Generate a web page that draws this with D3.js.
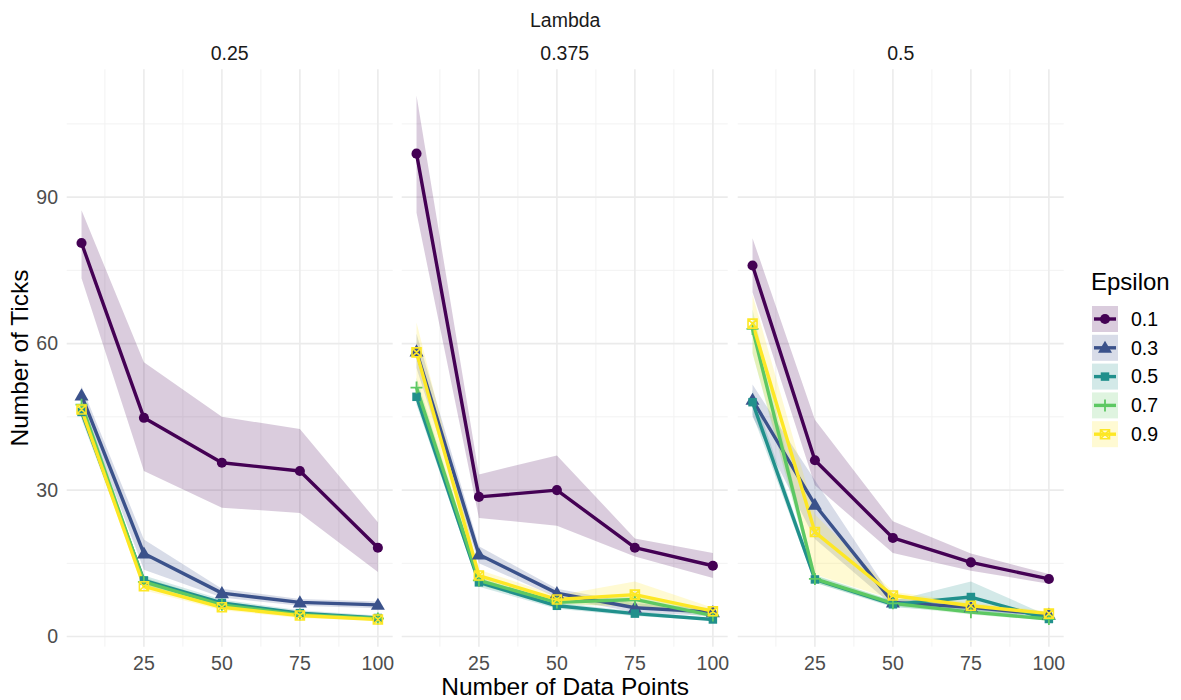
<!DOCTYPE html>
<html>
<head>
<meta charset="utf-8">
<script src="https://cdn.jsdelivr.net/npm/d3@7"></script>
<style>
  body { margin: 0; background: #fff; }
  text { font-family: "Liberation Sans", Arial, sans-serif; }
</style>
</head>
<body>
<div id="chart"></div>
<script>
// facets, series and x positions
const lambdas = ["0.25", "0.375", "0.5"];
const epsilons = ["0.1", "0.3", "0.5", "0.7", "0.9"];
const dataPoints = [5, 25, 50, 75, 100];
const xTicks = [25, 50, 75, 100];
const yTicks = [0, 30, 60, 90];

// mean / lower / upper per epsilon (rows) for each lambda
const mean025 = [
  [80.6, 44.8, 35.6, 33.9, 18.2],
  [49.4, 17.0, 8.9, 7.0, 6.5],
  [46.0, 11.5, 6.9, 4.8, 3.8],
  [47.5, 11.2, 6.5, 4.5, 3.7],
  [46.5, 10.3, 6.0, 4.3, 3.5]
];
const low025 = [
  [73.4, 33.9, 26.4, 25.3, 13.2],
  [47.5, 13.7, 8.0, 6.3, 5.8],
  [44.5, 10.5, 6.2, 4.2, 3.4],
  [46.0, 10.3, 5.8, 4.0, 3.4],
  [45.0, 9.5, 5.4, 3.8, 3.3]
];
const high025 = [
  [87.3, 56.2, 45.0, 42.5, 23.4],
  [51.3, 19.9, 9.8, 7.7, 7.2],
  [47.5, 12.5, 7.6, 5.4, 4.3],
  [49.0, 12.1, 7.2, 5.0, 4.1],
  [48.0, 11.1, 6.6, 4.8, 3.9]
];

const mean0375 = [
  [98.9, 28.6, 30.0, 18.2, 14.5],
  [58.4, 16.8, 8.9, 5.9, 5.0],
  [49.1, 11.1, 6.3, 4.7, 3.5],
  [51.0, 11.5, 7.0, 7.6, 4.3],
  [58.2, 12.5, 7.6, 8.6, 5.2]
];
const low0375 = [
  [86.8, 24.3, 22.7, 16.4, 12.0],
  [55.0, 15.0, 8.0, 5.0, 4.2],
  [47.5, 10.2, 5.7, 4.2, 3.3],
  [49.0, 10.5, 6.3, 6.5, 3.8],
  [52.0, 11.3, 6.8, 6.0, 4.5]
];
const high0375 = [
  [110.8, 33.2, 37.1, 20.1, 17.1],
  [62.0, 18.5, 9.8, 6.8, 5.8],
  [50.7, 12.0, 6.9, 5.2, 3.8],
  [53.0, 12.5, 7.7, 8.7, 4.8],
  [64.3, 13.7, 8.4, 11.3, 5.9]
];

const mean05 = [
  [76.0, 36.1, 20.2, 15.2, 11.8],
  [48.5, 27.0, 7.0, 6.0, 4.5],
  [48.0, 11.7, 6.6, 8.1, 3.6],
  [63.0, 11.8, 6.8, 5.0, 3.6],
  [64.1, 21.4, 8.4, 6.3, 4.7]
];
const low05 = [
  [70.5, 31.0, 17.1, 13.5, 10.8],
  [45.0, 20.0, 6.3, 5.4, 4.0],
  [45.5, 11.0, 6.0, 5.0, 3.3],
  [58.0, 11.0, 6.2, 4.5, 3.3],
  [58.0, 12.7, 7.6, 5.7, 4.2]
];
const high05 = [
  [81.6, 44.4, 23.6, 17.0, 12.8],
  [51.6, 32.0, 7.8, 6.6, 5.0],
  [50.5, 12.5, 7.3, 11.3, 4.2],
  [67.0, 12.6, 7.4, 5.6, 4.0],
  [70.0, 25.0, 9.2, 7.0, 5.2]
];

const means = [mean025, mean0375, mean05];
const lows = [low025, low0375, low05];
const highs = [high025, high0375, high05];

const colors = ["#440154", "#3B528B", "#21908C", "#5DC863", "#FDE725"];
const shapes = ["circle", "triangle", "square", "plus", "squarecross"];

const W = 1181, H = 700;
const panelW = 326, panelTop = 69.3, panelBottom = 646.7;
const panelLeft = [66.7, 401.7, 737.7];

const svg = d3.select("#chart").append("svg")
  .attr("width", W).attr("height", H);

// y scale with ggplot style 5% expansion
const allLo = d3.min(lows.flat(2)), allHi = d3.max(highs.flat(2));
const pad = (allHi - allLo) * 0.05;
const y = d3.scaleLinear()
  .domain([allLo - pad, allHi + pad])
  .range([panelBottom, panelTop]);

const xPad = (d3.max(dataPoints) - d3.min(dataPoints)) * 0.05;

function drawShape(g, shape, color) {
  if (shape === "circle") {
    g.append("path").attr("d", d3.symbol(d3.symbolCircle, 80)()).attr("fill", color);
  } else if (shape === "triangle") {
    g.append("path").attr("d", d3.symbol(d3.symbolTriangle, 85)()).attr("fill", color)
      .attr("transform", "translate(0,1)");
  } else if (shape === "square") {
    g.append("path").attr("d", d3.symbol(d3.symbolSquare, 72)()).attr("fill", color);
  } else if (shape === "plus") {
    g.append("path").attr("d", "M-6,0H6M0,-6V6")
      .attr("stroke", color).attr("stroke-width", 1.8).attr("fill", "none");
  } else {
    g.append("path").attr("d", "M-4.5,-4.5H4.5V4.5H-4.5Z M-4.5,-4.5L4.5,4.5M4.5,-4.5L-4.5,4.5")
      .attr("stroke", color).attr("stroke-width", 1.6).attr("fill", "none");
  }
}

// facet header
svg.append("text")
  .attr("x", (panelLeft[0] + panelLeft[2] + panelW) / 2).attr("y", 26.5)
  .attr("text-anchor", "middle").attr("font-size", 19.5).attr("fill", "#1a1a1a")
  .text("Lambda");

lambdas.forEach((lam, p) => {
  const x = d3.scaleLinear()
    .domain([d3.min(dataPoints) - xPad, d3.max(dataPoints) + xPad])
    .range([panelLeft[p], panelLeft[p] + panelW]);

  const g = svg.append("g");

  // minor grid
  const yMinor = [15, 45, 75, 105];
  const xMinor = [12.5, 37.5, 62.5, 87.5];
  g.selectAll(".ymin").data(yMinor).join("line")
    .attr("x1", panelLeft[p]).attr("x2", panelLeft[p] + panelW)
    .attr("y1", d => y(d)).attr("y2", d => y(d))
    .attr("stroke", "#f2f2f2").attr("stroke-width", 1);
  g.selectAll(".xmin").data(xMinor).join("line")
    .attr("x1", d => x(d)).attr("x2", d => x(d))
    .attr("y1", panelTop).attr("y2", panelBottom)
    .attr("stroke", "#f2f2f2").attr("stroke-width", 1);
  // major grid
  g.selectAll(".ymaj").data(yTicks).join("line")
    .attr("x1", panelLeft[p]).attr("x2", panelLeft[p] + panelW)
    .attr("y1", d => y(d)).attr("y2", d => y(d))
    .attr("stroke", "#ebebeb").attr("stroke-width", 1.6);
  g.selectAll(".xmaj").data(xTicks).join("line")
    .attr("x1", d => x(d)).attr("x2", d => x(d))
    .attr("y1", panelTop).attr("y2", panelBottom)
    .attr("stroke", "#ebebeb").attr("stroke-width", 1.6);

  // strip label
  svg.append("text")
    .attr("x", panelLeft[p] + panelW / 2).attr("y", 60)
    .attr("text-anchor", "middle").attr("font-size", 19.5).attr("fill", "#1a1a1a")
    .text(lam);

  // x tick labels
  g.selectAll(".xt").data(xTicks).join("text")
    .attr("x", d => x(d)).attr("y", 670)
    .attr("text-anchor", "middle").attr("font-size", 19.5).attr("fill", "#4d4d4d")
    .text(d => d);

  const series = epsilons.map((e, i) => dataPoints.map((dp, j) => ({
    x: dp, m: means[p][i][j], lo: lows[p][i][j], hi: highs[p][i][j]
  })));

  const area = d3.area().x(d => x(d.x)).y0(d => y(d.lo)).y1(d => y(d.hi));
  const line = d3.line().x(d => x(d.x)).y(d => y(d.m));

  g.selectAll(".ribbon").data(series).join("path")
    .attr("d", area).attr("fill", (d, i) => colors[i]).attr("fill-opacity", 0.2);
  g.selectAll(".line").data(series).join("path")
    .attr("d", line).attr("fill", "none").attr("stroke", (d, i) => colors[i])
    .attr("stroke-width", 3.4).attr("stroke-linejoin", "round");
  series.forEach((s, i) => {
    s.forEach(d => {
      const pg = g.append("g").attr("transform", `translate(${x(d.x)},${y(d.m)})`);
      drawShape(pg, shapes[i], colors[i]);
    });
  });
});

// y axis labels
svg.selectAll(".yt").data(yTicks).join("text")
  .attr("x", 58).attr("y", d => y(d)).attr("dy", "0.35em")
  .attr("text-anchor", "end").attr("font-size", 19.5).attr("fill", "#4d4d4d")
  .text(d => d);

// axis titles
svg.append("text")
  .attr("transform", `translate(28,${(panelTop + panelBottom) / 2}) rotate(-90)`)
  .attr("text-anchor", "middle").attr("font-size", 24.5).attr("fill", "#000")
  .text("Number of Ticks");
svg.append("text")
  .attr("x", (panelLeft[0] + panelLeft[2] + panelW) / 2).attr("y", 694.5)
  .attr("text-anchor", "middle").attr("font-size", 24.5).attr("fill", "#000")
  .text("Number of Data Points");

// legend
const legend = svg.append("g");
legend.append("text")
  .attr("x", 1091).attr("y", 290).attr("font-size", 24).attr("fill", "#000")
  .text("Epsilon");
epsilons.forEach((e, i) => {
  const top = 306 + i * 28.8;
  const kg = legend.append("g");
  kg.append("rect").attr("x", 1092).attr("y", top).attr("width", 26).attr("height", 26)
    .attr("fill", colors[i]).attr("fill-opacity", 0.2);
  kg.append("line").attr("x1", 1094).attr("x2", 1116)
    .attr("y1", top + 13).attr("y2", top + 13)
    .attr("stroke", colors[i]).attr("stroke-width", 3.4);
  drawShape(kg.append("g").attr("transform", `translate(1105,${top + 13})`), shapes[i], colors[i]);
  kg.append("text").attr("x", 1131).attr("y", top + 13).attr("dy", "0.35em")
    .attr("font-size", 19.5).attr("fill", "#000").text(e);
});
</script>
</body>
</html>
